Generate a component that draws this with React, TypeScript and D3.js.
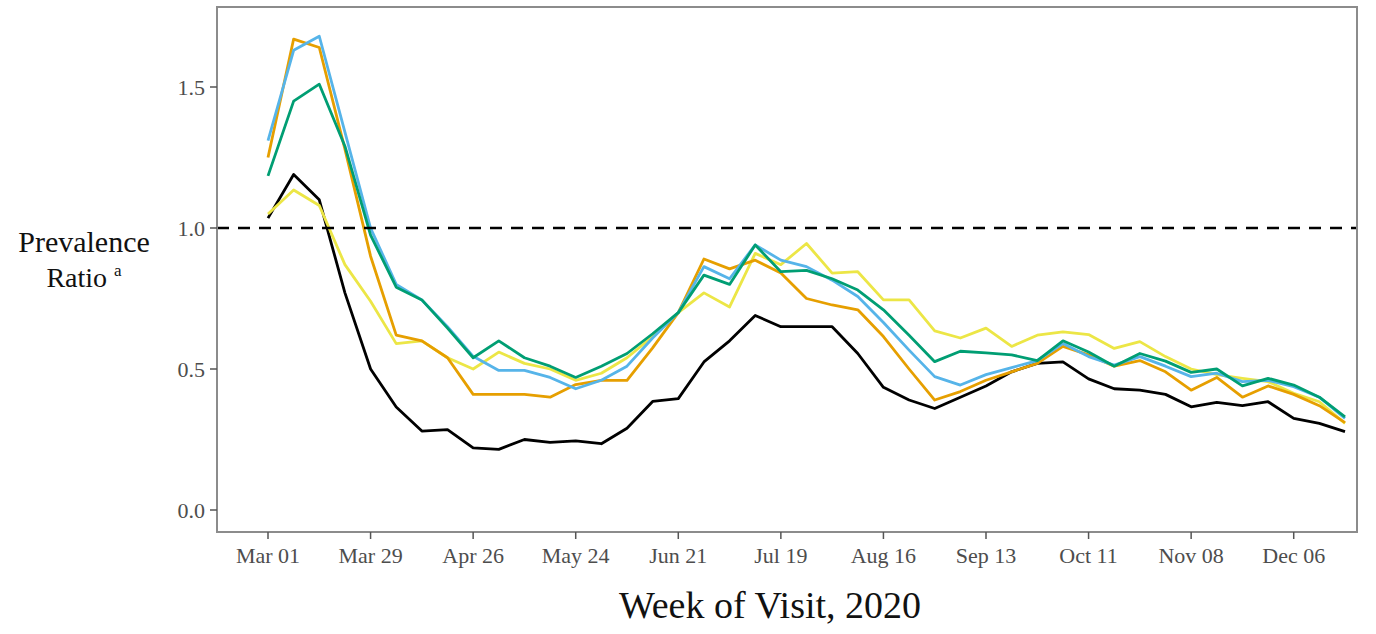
import React from "react";
import * as d3 from "d3";

const startDate = new Date(2020, 2, 1);
const weeks = d3.range(43).map((i) => d3.timeDay.offset(startDate, i * 7));

const tickLabels = ["Mar 01", "Mar 29", "Apr 26", "May 24", "Jun 21", "Jul 19", "Aug 16", "Sep 13", "Oct 11", "Nov 08", "Dec 06"];
const yTicks = [0.0, 0.5, 1.0, 1.5];

const blackSeries = [1.035, 1.19, 1.10, 0.77, 0.50, 0.365, 0.28, 0.285, 0.22, 0.215, 0.25, 0.24, 0.245, 0.235, 0.29, 0.385, 0.395, 0.525, 0.60, 0.69, 0.65, 0.65, 0.65, 0.555, 0.435, 0.39, 0.36, 0.40, 0.44, 0.49, 0.52, 0.525, 0.465, 0.43, 0.425, 0.41, 0.366, 0.382, 0.37, 0.384, 0.325, 0.307, 0.278];
const yellowSeries = [1.05, 1.135, 1.08, 0.87, 0.74, 0.59, 0.60, 0.54, 0.50, 0.56, 0.52, 0.50, 0.46, 0.485, 0.54, 0.615, 0.70, 0.77, 0.72, 0.91, 0.87, 0.945, 0.84, 0.845, 0.745, 0.745, 0.635, 0.61, 0.645, 0.58, 0.62, 0.632, 0.622, 0.573, 0.597, 0.544, 0.50, 0.48, 0.467, 0.455, 0.414, 0.384, 0.307];
const orangeSeries = [1.25, 1.67, 1.64, 1.28, 0.90, 0.62, 0.60, 0.54, 0.41, 0.41, 0.41, 0.40, 0.445, 0.46, 0.46, 0.575, 0.70, 0.89, 0.855, 0.886, 0.84, 0.75, 0.727, 0.71, 0.615, 0.50, 0.39, 0.42, 0.46, 0.49, 0.52, 0.58, 0.55, 0.51, 0.53, 0.49, 0.425, 0.47, 0.40, 0.44, 0.41, 0.37, 0.31];
const blueSeries = [1.31, 1.63, 1.68, 1.34, 1.0, 0.80, 0.745, 0.65, 0.545, 0.495, 0.495, 0.47, 0.43, 0.46, 0.51, 0.61, 0.70, 0.863, 0.82, 0.94, 0.886, 0.863, 0.815, 0.757, 0.665, 0.567, 0.473, 0.443, 0.48, 0.505, 0.53, 0.59, 0.544, 0.514, 0.544, 0.51, 0.473, 0.485, 0.455, 0.46, 0.437, 0.40, 0.325];
const greenSeries = [1.185, 1.45, 1.51, 1.29, 0.975, 0.79, 0.745, 0.645, 0.54, 0.60, 0.54, 0.51, 0.47, 0.51, 0.555, 0.625, 0.70, 0.833, 0.80, 0.94, 0.845, 0.85, 0.82, 0.78, 0.71, 0.62, 0.526, 0.563, 0.557, 0.55, 0.53, 0.60, 0.56, 0.51, 0.555, 0.528, 0.488, 0.50, 0.44, 0.467, 0.443, 0.40, 0.33];

const series = [
  { name: "black", values: blackSeries, color: "#000000" },
  { name: "yellow", values: yellowSeries, color: "#ECE646" },
  { name: "orange", values: orangeSeries, color: "#E69F00" },
  { name: "blue", values: blueSeries, color: "#56B4E9" },
  { name: "green", values: greenSeries, color: "#009E73" },
];

const W = 1376;
const H = 634;
const panel = { left: 217, right: 1357, top: 7, bottom: 532 };

export default function App() {
  const x = d3.scaleTime().domain([weeks[0], weeks[42]]).range([268, 1345]);
  const y = d3.scaleLinear().domain([0, 1]).range([510, 228]);
  const tickDates = tickLabels.map((_, i) => d3.timeDay.offset(startDate, i * 28));
  const line = d3
    .line<number>()
    .x((_, i) => x(weeks[i]))
    .y((d) => y(d));
  const font = "'Liberation Serif', 'Times New Roman', serif";
  return (
    <svg width={W} height={H} style={{ position: "absolute", left: 0, top: 0, background: "#fff" }}>
      <rect x={0} y={0} width={W} height={H} fill="#fff" />
      {series.map((s) => (
        <path key={s.name} d={line(s.values) || ""} fill="none" stroke={s.color} strokeWidth={2.8} strokeLinejoin="round" />
      ))}
      <line x1={panel.left} x2={panel.right} y1={y(1)} y2={y(1)} stroke="#000" strokeWidth={2.5} strokeDasharray="12 9" />
      <rect x={panel.left} y={panel.top} width={panel.right - panel.left} height={panel.bottom - panel.top} fill="none" stroke="#8c8c8c" strokeWidth={2} />
      {yTicks.map((t) => (
        <g key={t}>
          <line x1={panel.left - 7} x2={panel.left} y1={y(t)} y2={y(t)} stroke="#555" strokeWidth={1.5} />
          <text x={panel.left - 12} y={y(t)} dy="0.35em" textAnchor="end" fontFamily={font} fontSize={22} fill="#4d4d4d">
            {d3.format(".1f")(t)}
          </text>
        </g>
      ))}
      {tickDates.map((d, i) => (
        <g key={i}>
          <line x1={x(d)} x2={x(d)} y1={panel.bottom} y2={panel.bottom + 7} stroke="#555" strokeWidth={1.5} />
          <text x={x(d)} y={panel.bottom + 31} textAnchor="middle" fontFamily={font} fontSize={22} fill="#4d4d4d">
            {tickLabels[i]}
          </text>
        </g>
      ))}
      <text x={770} y={618} textAnchor="middle" fontFamily={font} fontSize={38} fill="#111">
        Week of Visit, 2020
      </text>
      <text x={84} y={252} textAnchor="middle" fontFamily={font} fontSize={30} fill="#111">
        Prevalence
      </text>
      <text x={84} y={287} textAnchor="middle" fontFamily={font} fontSize={28} fill="#111">
        Ratio <tspan fontSize={17} dy={-11}>a</tspan>
      </text>
    </svg>
  );
}
